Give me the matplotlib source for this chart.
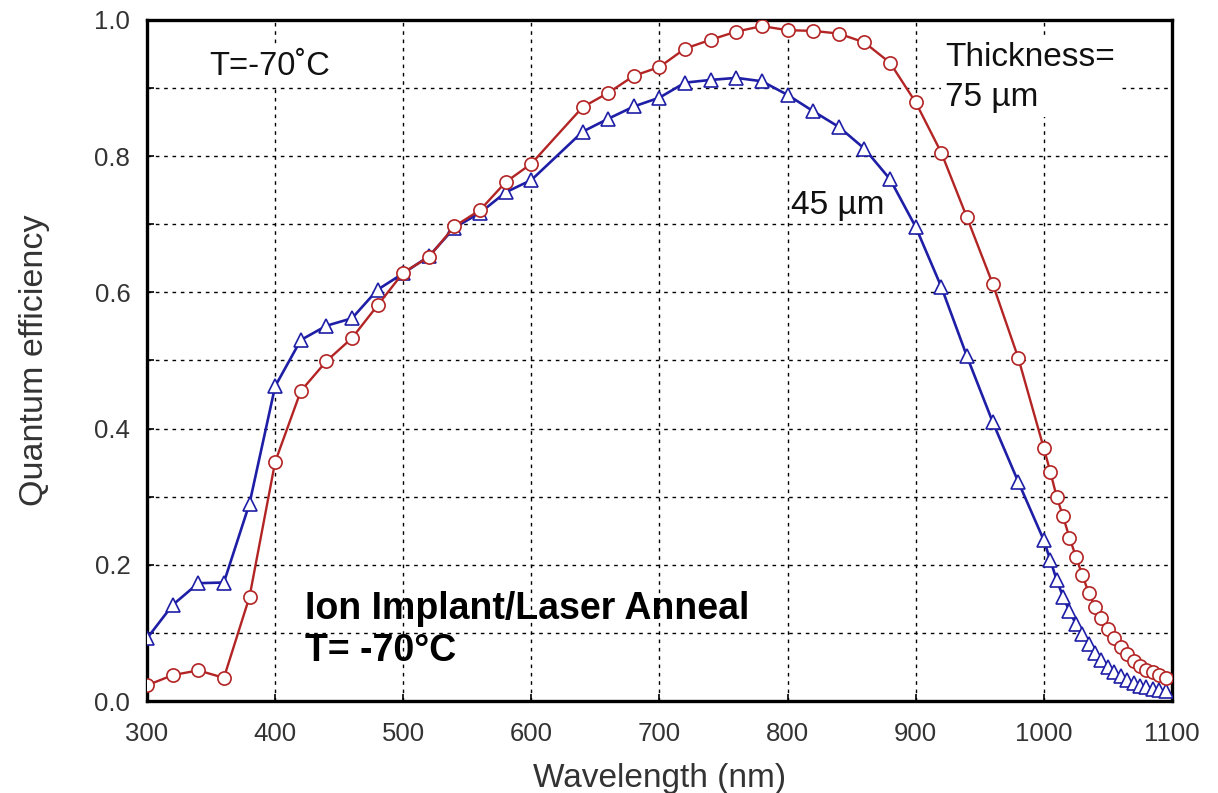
import matplotlib
matplotlib.use("Agg")
import matplotlib.pyplot as plt
from matplotlib.ticker import MultipleLocator

plt.rcParams['font.family'] = ['Liberation Sans', 'DejaVu Sans']

# ---- data ----
wavelength = [300, 320, 340, 360, 380, 400, 420, 440, 460, 480, 500, 520, 540, 560, 580, 600,
              640, 660, 680, 700, 720, 740, 760, 780, 800, 820, 840, 860, 880, 900, 920, 940, 960, 980,
              1000, 1005, 1010, 1015, 1020, 1025, 1030, 1035, 1040, 1045, 1050, 1055, 1060, 1065,
              1070, 1075, 1080, 1085, 1090, 1095]

qe_75um = [0.023, 0.038, 0.045, 0.034, 0.153, 0.351, 0.455, 0.499, 0.533, 0.581, 0.629, 0.652,
           0.697, 0.721, 0.762, 0.789,
           0.872, 0.893, 0.918, 0.931, 0.958, 0.971, 0.983, 0.991, 0.985, 0.984, 0.980, 0.967,
           0.937, 0.879, 0.805, 0.710, 0.613, 0.504,
           0.371, 0.337, 0.300, 0.271, 0.240, 0.212, 0.185, 0.159, 0.138, 0.122, 0.106, 0.093,
           0.080, 0.069, 0.059, 0.052, 0.046, 0.042, 0.038, 0.034]

qe_45um = [0.092, 0.141, 0.173, 0.174, 0.290, 0.462, 0.530, 0.551, 0.562, 0.604, 0.628, 0.653,
           0.695, 0.717, 0.747, 0.765,
           0.836, 0.855, 0.873, 0.886, 0.908, 0.912, 0.915, 0.910, 0.890, 0.866, 0.843, 0.811,
           0.766, 0.696, 0.608, 0.506, 0.410, 0.322,
           0.236, 0.207, 0.178, 0.153, 0.132, 0.113, 0.098, 0.084, 0.071, 0.060, 0.050, 0.043,
           0.037, 0.031, 0.026, 0.022, 0.020, 0.018, 0.016, 0.014]

x_ticks = [300, 400, 500, 600, 700, 800, 900, 1000, 1100]
y_ticks = [0.0, 0.2, 0.4, 0.6, 0.8, 1.0]

red = '#B32424'
blue = '#1E1EA6'

fig = plt.figure(figsize=(12.18, 7.93), dpi=100)
ax = fig.add_axes([0.1207, 0.116, 0.8415, 0.8588])

ax.plot(wavelength, qe_45um, color=blue, lw=1.9, marker='^', ms=10.5, mfc='white',
        mec=blue, mew=1.2, zorder=3)
ax.plot(wavelength, qe_75um, color=red, lw=1.7, marker='o', ms=9.5, mfc='white',
        mec=red, mew=1.2, zorder=4)

ax.set_xlim(300, 1100)
ax.set_ylim(0.0, 1.0)
ax.set_xticks(x_ticks)
ax.set_xticklabels([str(v) for v in x_ticks])
ax.set_yticks(y_ticks)
ax.set_yticklabels([f"{v:.1f}" for v in y_ticks])
ax.yaxis.set_minor_locator(MultipleLocator(0.1))
ax.xaxis.set_minor_locator(MultipleLocator(100))

ax.grid(True, which='both', color='black', linestyle=(0, (2.6, 3.4)), linewidth=1.0, zorder=1)
ax.set_axisbelow(True)

ax.tick_params(which='both', direction='in', length=5, width=1.2, color='black',
               labelsize=18.5, labelcolor='#333333')
ax.tick_params(axis='x', pad=15)
ax.tick_params(axis='y', pad=12)
ax.tick_params(which='both', top=False, right=False)

for sp in ax.spines.values():
    sp.set_linewidth(2.4)
    sp.set_color('black')

ax.set_xlabel('Wavelength (nm)', fontsize=24, color='#333333', labelpad=12)
ax.set_ylabel('Quantum efficiency', fontsize=24.5, color='#333333', labelpad=32)

bbox_w = dict(facecolor='white', edgecolor='none', pad=3)
ax.text(396, 0.932, 'T=-70˚C', fontsize=23.5, color='#111111', ha='center', va='center',
        bbox=bbox_w, zorder=2)
ax.text(923, 0.968, 'Thickness=\n75 µm', fontsize=24, color='#111111', ha='left', va='top',
        linespacing=1.4, bbox=bbox_w, zorder=2)
ax.text(803, 0.727, '45 µm', fontsize=24, color='#111111', ha='left', va='center', zorder=2)
ax.text(423, 0.162, 'Ion Implant/Laser Anneal\nT= -70°C', fontsize=27, fontweight='bold',
        color='black', ha='left', va='top', linespacing=1.22, zorder=5)

fig.savefig('out.png', dpi=100)
